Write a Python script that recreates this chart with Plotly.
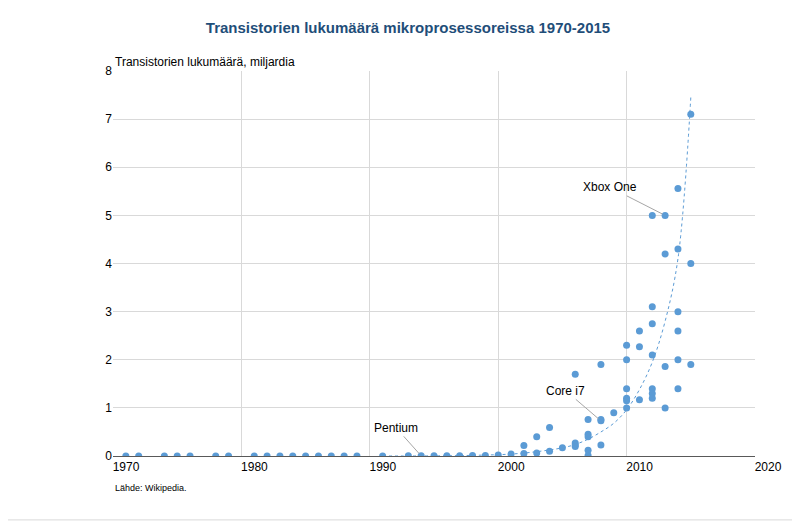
import plotly.graph_objects as go

# transistor counts (billions) per year
years = [1970, 1971, 1973, 1974, 1975, 1977, 1978, 1980, 1981, 1982, 1983, 1984, 1985,
         1986, 1987, 1988, 1990, 1992, 1993, 1994, 1995, 1996, 1997, 1998, 1999, 2000,
         2001, 2001, 2002, 2002, 2003, 2003, 2004,
         2005, 2005, 2005, 2005,
         2006, 2006, 2006, 2006, 2006,
         2007, 2007, 2007, 2007, 2008,
         2009, 2009, 2009, 2009, 2009, 2009,
         2010, 2010, 2010,
         2011, 2011, 2011, 2011, 2011, 2011, 2011,
         2012, 2012, 2012, 2012,
         2013, 2013, 2013, 2013, 2013, 2013,
         2014, 2014, 2014]
counts = [0.0, 0.0, 0.0, 0.0, 0.0, 0.0, 0.0, 0.0, 0.0, 0.0, 0.0, 0.0, 0.0,
          0.0, 0.0, 0.0, 0.001, 0.003, 0.003, 0.004, 0.005, 0.006, 0.008, 0.01, 0.02, 0.04,
          0.22, 0.05, 0.4, 0.06, 0.59, 0.1, 0.17,
          1.7, 0.27, 0.23, 0.2,
          0.76, 0.45, 0.4, 0.12, 0.01,
          1.9, 0.73, 0.76, 0.23, 0.9,
          2.3, 2.0, 1.4, 1.2, 1.15, 1.0,
          2.6, 2.27, 1.17,
          5.0, 3.1, 2.75, 2.1, 1.4, 1.3, 1.2,
          5.0, 4.2, 1.86, 1.0,
          5.56, 4.3, 3.0, 2.6, 2.0, 1.4,
          7.1, 4.0, 1.9]

# exponential trend
trend_years = [1990, 1995, 1998, 2000, 2002, 2004, 2005, 2006, 2007, 2008, 2009,
               2010, 2011, 2012, 2013, 2014]
trend_vals = [0.0, 0.005, 0.02, 0.04, 0.09, 0.17, 0.24, 0.35, 0.5, 0.68, 0.96,
              1.38, 1.95, 2.8, 4.1, 7.45]

labels = [("Pentium", 1993, 0.003, -25, -28),
          ("Core i7", 2007, 0.73, -35, -30),
          ("Xbox One", 2012, 5.0, -55, -28)]

fig = go.Figure()
fig.add_trace(go.Scatter(x=trend_years, y=trend_vals, mode="lines", line_shape="spline",
                         line=dict(color="#5B9BD5", width=1, dash="dot"), hoverinfo="skip"))
fig.add_trace(go.Scatter(x=years, y=counts, mode="markers",
                         marker=dict(color="#5B9BD5", size=7)))

for txt, x, y, ax, ay in labels:
    fig.add_annotation(x=x, y=y, text=txt, ax=ax, ay=ay, showarrow=True, arrowhead=0,
                       arrowwidth=1, arrowcolor="#A6A6A6", standoff=3,
                       font=dict(size=12, color="#000000"), xanchor="center")

fig.add_annotation(text="Transistorien lukumäärä, miljardia", xref="paper", yref="paper",
                   x=0, y=1, xanchor="left", yanchor="bottom", showarrow=False,
                   font=dict(size=12, color="#000000"))
fig.add_annotation(text="Lähde: Wikipedia.", xref="paper", yref="paper",
                   x=0, y=-0.065, xanchor="left", yanchor="top", showarrow=False,
                   font=dict(size=9, color="#000000"))

fig.update_layout(
    width=800, height=521, showlegend=False,
    plot_bgcolor="white", paper_bgcolor="white",
    font=dict(family="Liberation Sans, Arial", size=12, color="#000000"),
    title=dict(text="<b>Transistorien lukumäärä mikroprosessoreissa 1970-2015</b>",
               x=0.5, xanchor="center", y=0.962, yanchor="middle",
               font=dict(size=15, color="#1F4E79")),
    margin=dict(l=105, r=53, t=63, b=73),
    xaxis=dict(range=[1969, 2019], tickvals=[1969, 1979, 1989, 1999, 2009, 2019],
               ticktext=["1970", "1980", "1990", "2000", "2010", "2020"],
               ticklabelshift=13, showgrid=True, gridcolor="#D9D9D9",
               showline=True, linecolor="#595959", zeroline=False, ticks=""),
    yaxis=dict(range=[0, 8], dtick=1, showgrid=True, gridcolor="#D9D9D9",
               zeroline=False, showline=False, ticks=""),
    shapes=[dict(type="rect", xref="paper", yref="paper", x0=-0.3, x1=1.0685,
                 y0=-0.166, y1=1.3, line=dict(color="#D9D9D9", width=1))],
)

fig.write_html("out.html")
